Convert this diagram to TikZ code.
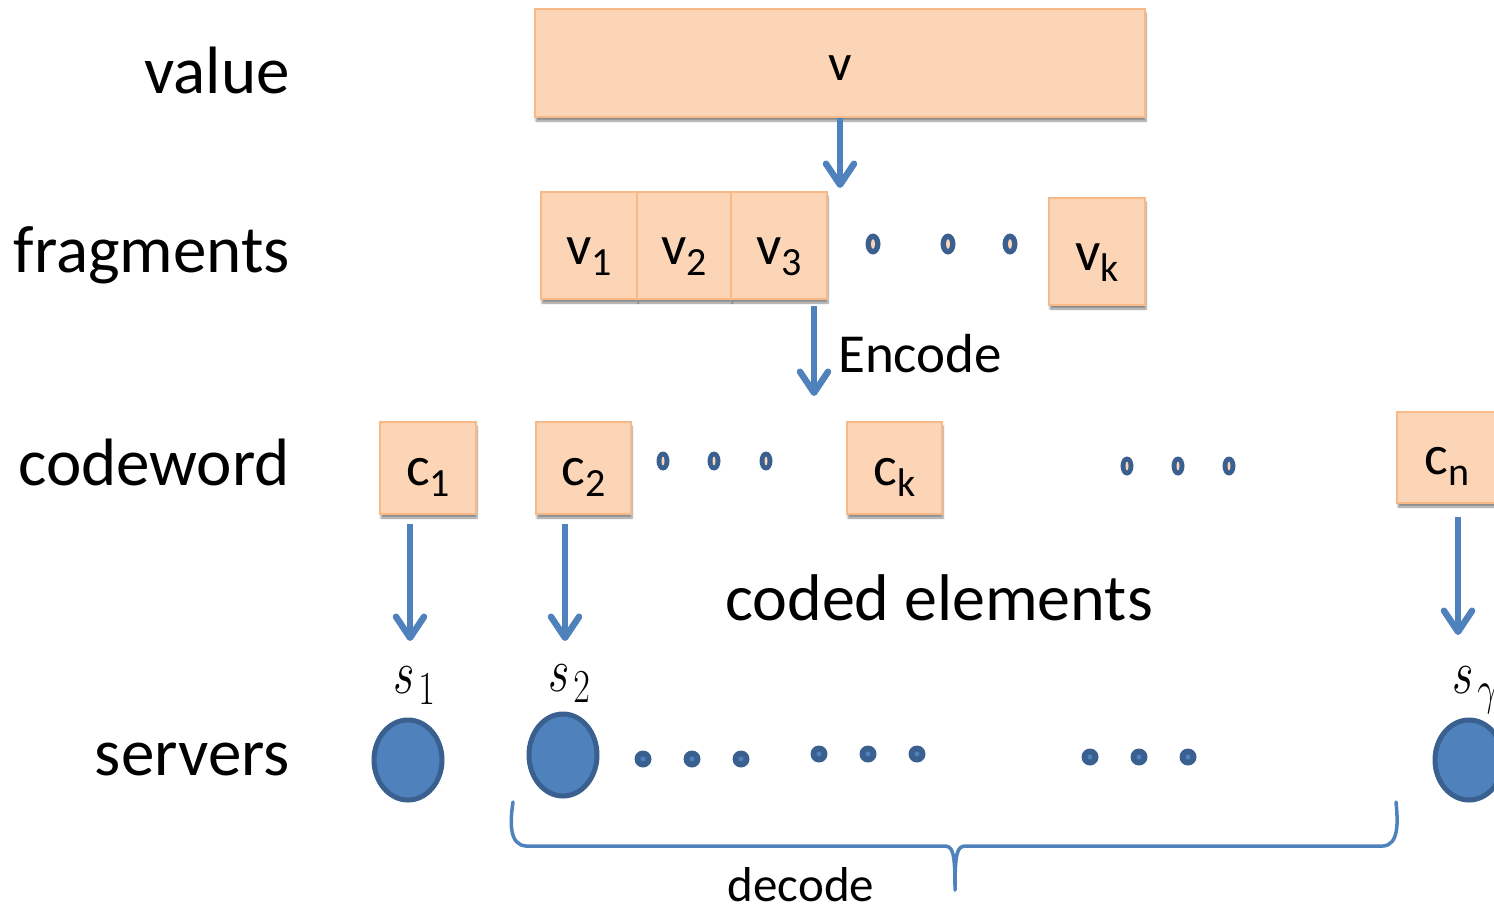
\documentclass[tikz,border=0pt]{standalone}
\usepackage{fontspec}
\setmainfont{Carlito}
\usetikzlibrary{arrows.meta,shadows.blur,calc,shapes.geometric}

\definecolor{peach}{HTML}{FBD5B5}
\definecolor{peachline}{HTML}{F6B987}
\definecolor{accblue}{HTML}{4F81BD}
\definecolor{darkblue}{HTML}{3A6090}

\newcommand\fsz[1]{\fontsize{#1}{#1}\selectfont}
\newcommand\lowsub[1]{\raisebox{-0.2em}{\fsz{40}#1}}
% server name: italic s with its index, both drawn taller than wide
\newcommand\srv[1]{%
  \scalebox{1.85}[2.5]{\fsz{24.88}$s$}\kern4pt
  \raisebox{-11pt}{\scalebox{1.45}[1.9]{\fsz{24.88}$#1$}}}

\tikzset{
  blockbox/.style={draw=peachline, fill=peach, line width=1.5pt, inner sep=0pt,
    font=\fsz{56}, text=black, text height=37pt, text depth=0pt,
    blur shadow={shadow xshift=1pt, shadow yshift=-4pt, shadow blur steps=6, shadow opacity=45}},
  rowlabel/.style={anchor=base east, font=\fsz{67}, inner sep=0pt},
  flow/.style={draw=accblue, line width=6.5pt,
    -{Straight Barb[length=21pt, width=28pt, line cap=round, line join=round]}},
  server/.style={ellipse, draw=darkblue, fill=accblue, line width=5pt,
    minimum width=68pt, minimum height=80pt, inner sep=0pt},
  srvlabel/.style={inner sep=0pt, anchor=base west},
}

\begin{document}
\begin{tikzpicture}[x=1pt, y=-1pt]
\useasboundingbox (0,0) rectangle (1494,911);

% row labels
\node[rowlabel] (lvalue) at (290,93) {value};
\node[rowlabel] (lfrag) at (290,272) {fragments};
\node[rowlabel] (lcode) at (290,485) {codeword};
\node[rowlabel] (lserv) at (290,775) {servers};

% the value and its fragments
\node[blockbox, minimum width=610pt, minimum height=108pt, font=\fsz{52}, text height=34pt] (val) at (840,63) {v};
\node[blockbox, minimum width=96pt, minimum height=107pt] (v1) at (589,245.5) {v\lowsub{1}};
\node[blockbox, minimum width=94pt, minimum height=107pt] (v2) at (684,245.5) {v\lowsub{2}};
\node[blockbox, minimum width=96pt, minimum height=107pt] (v3) at (779,245.5) {v\lowsub{3}};
\node[blockbox, minimum width=96pt, minimum height=107pt] (vk) at (1097,251.5) {v\lowsub{k}};

% codeword elements
\node[blockbox, minimum width=96pt, minimum height=92pt, text height=34pt] (c1) at (428,468) {c\lowsub{1}};
\node[blockbox, minimum width=95pt, minimum height=92pt, text height=34pt] (c2) at (583.5,468) {c\lowsub{2}};
\node[blockbox, minimum width=95pt, minimum height=92pt, text height=34pt] (ck) at (894.5,468) {c\lowsub{k}};
\node[blockbox, minimum width=100pt, minimum height=91pt, text height=34pt] (cn) at (1447,457.5) {c\lowsub{n}};

% ellipsis marks in the fragment and codeword rows
\foreach \x in {873,948,1010} {
  \fill[darkblue] (\x,244) ellipse (7.5 and 10.5);
  \fill[peach] (\x,244) ellipse (2 and 5);
}
\foreach \x/\y in {663/461,714/461,766/461,1127/466,1178/466,1229/466} {
  \fill[darkblue] (\x,\y) ellipse (6.5 and 9.5);
  \fill[peach] (\x,\y) ellipse (1.5 and 4.5);
}

% servers
\node[server] (s1) at (408,760) {};
\node[server, minimum height=82pt] (s2) at (563,755) {};
\node[server] (sn) at (1469,760) {};
\node[srvlabel] (ls1) at (393,693) {\srv{1}};
\node[srvlabel] (ls2) at (548,691) {\srv{2}};
\node[srvlabel] (lsn) at (1452,693) {\srv{\gamma}};

\foreach \x/\y in {643/759,692/759,741/759,819/754,868/754,917/754,1090/757,1139/757,1188/757} {
  \fill[darkblue] (\x,\y) circle (8.5);
  \fill[accblue] (\x,\y) circle (2.5);
}

% arrows
\coordinate (vsplit) at (840,188);
\draw[flow] (val.south -| vsplit) -- (vsplit);
\coordinate (encstart) at (814,306);
\coordinate (encend) at (814,396);
\draw[flow] (encstart) -- (encend);
\node[anchor=base west, font=\fsz{55}, inner sep=0pt] (enc) at (838,372) {Encode};

\coordinate (a1s) at (410,524);
\coordinate (a1e) at (410,641);
\draw[flow] (a1s) -- (a1e);
\coordinate (a2s) at (565,524);
\coordinate (a2e) at (565,641);
\draw[flow] (a2s) -- (a2e);
\coordinate (ans) at (1458,517);
\coordinate (ane) at (1458,635);
\draw[flow] (ans) -- (ane);

\node[anchor=base, font=\fsz{66}, inner sep=0pt] (coded) at (939,620) {coded elements};

% brace over the decoding servers
\coordinate (bl) at (513,802);
\coordinate (br) at (1396,802);
\coordinate (btip) at (955,890);
\draw[accblue, line width=3.5pt, line join=round, line cap=round]
  (bl) .. controls (510,822) and (509,845) .. (526,846) -- (944,846)
  .. controls (953,846) and (955,852) .. (btip)
  .. controls (955,852) and (957,846) .. (966,846) -- (1383,846)
  .. controls (1399,845) and (1398,822) .. (br);
\node[anchor=base, font=\fsz{49}, inner sep=0pt] (dec) at (801,901) {decode};
\end{tikzpicture}
\end{document}
